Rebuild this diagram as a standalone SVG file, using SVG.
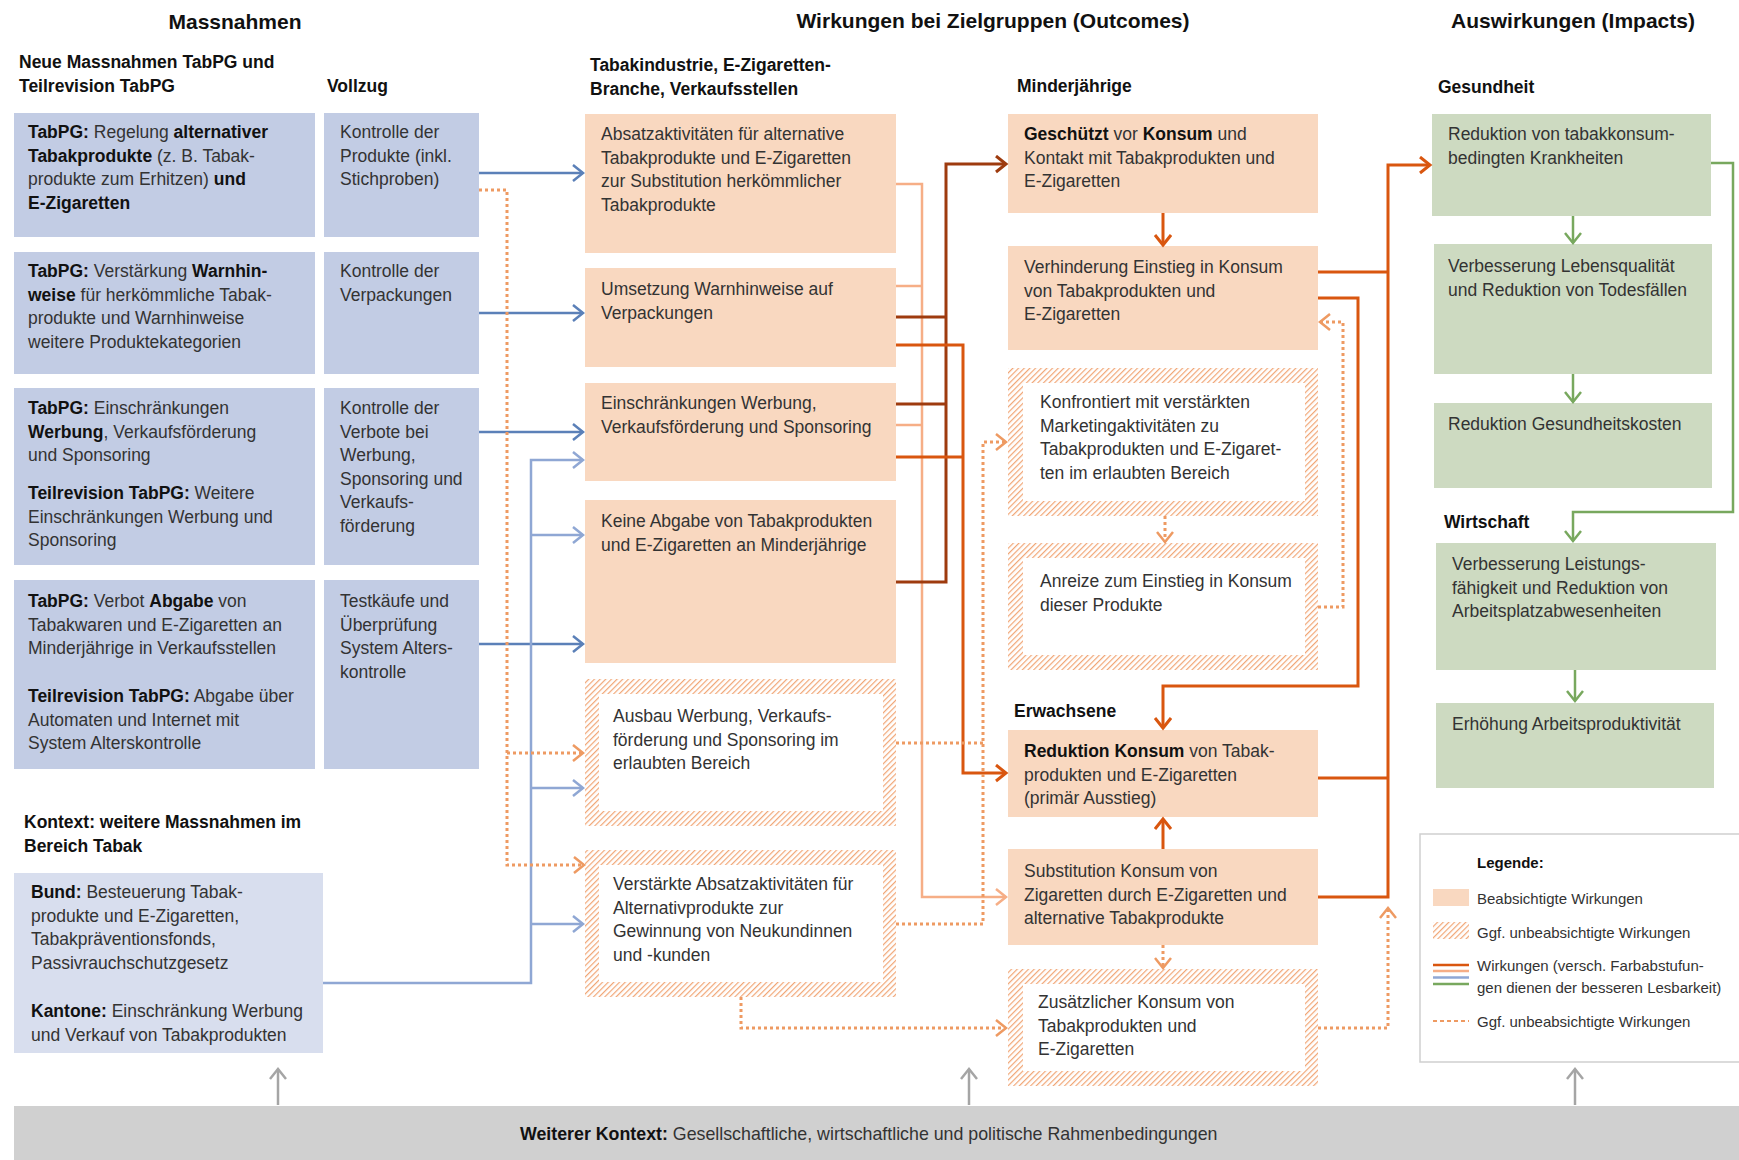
<svg xmlns="http://www.w3.org/2000/svg" width="1739" height="1160" viewBox="0 0 1739 1160">
<style>
text{font-family:"Liberation Sans",Arial,sans-serif;font-size:17.5px;fill:#333}
.b{font-weight:bold;fill:#111}
.h{font-weight:bold;fill:#111}
.ti{font-weight:bold;font-size:21px;fill:#111}
.lg{font-size:15px}
.blue{fill:#C2CCE4}
.ctx{fill:#D8DEEE}
.peach{fill:#F9D8C0}
.green{fill:#CDDAC1}
.c{fill:none;stroke-linejoin:miter}
.bd{stroke:#5B80B8;stroke-width:2.5}
.bl{stroke:#8FA7D4;stroke-width:2.5}
.br{stroke:#9E3B0E;stroke-width:3}
.om{stroke:#D9560F;stroke-width:3}
.ol{stroke:#F6AE86;stroke-width:2.5}
.od{stroke:#EE9A62;stroke-width:3;stroke-dasharray:3 3}
.gr{stroke:#78A85E;stroke-width:2.5}
.gy{stroke:#A5A5A5;stroke-width:2.5}
</style>
<defs>
<pattern id="hatch" width="4" height="4" patternUnits="userSpaceOnUse" patternTransform="rotate(45)"><rect width="4" height="4" fill="#fff"/><line x1="0.6" y1="0" x2="0.6" y2="4" stroke="#F1A676" stroke-width="1.2"/></pattern>
<marker id="mBd" markerUnits="userSpaceOnUse" markerWidth="14" markerHeight="20" refX="11" refY="9" orient="auto"><path d="M1,1 L11,9 L1,17" fill="none" stroke="#5B80B8" stroke-width="2.5"/></marker>
<marker id="mBl" markerUnits="userSpaceOnUse" markerWidth="14" markerHeight="20" refX="11" refY="9" orient="auto"><path d="M1,1 L11,9 L1,17" fill="none" stroke="#8FA7D4" stroke-width="2.5"/></marker>
<marker id="mBr" markerUnits="userSpaceOnUse" markerWidth="14" markerHeight="20" refX="11" refY="9" orient="auto"><path d="M1,1 L11,9 L1,17" fill="none" stroke="#9E3B0E" stroke-width="3"/></marker>
<marker id="mOm" markerUnits="userSpaceOnUse" markerWidth="14" markerHeight="20" refX="11" refY="9" orient="auto"><path d="M1,1 L11,9 L1,17" fill="none" stroke="#D9560F" stroke-width="3"/></marker>
<marker id="mOl" markerUnits="userSpaceOnUse" markerWidth="14" markerHeight="20" refX="11" refY="9" orient="auto"><path d="M1,1 L11,9 L1,17" fill="none" stroke="#F6AE86" stroke-width="2.5"/></marker>
<marker id="mOd" markerUnits="userSpaceOnUse" markerWidth="14" markerHeight="20" refX="11" refY="9" orient="auto"><path d="M1,1 L11,9 L1,17" fill="none" stroke="#EE9A62" stroke-width="2.5"/></marker>
<marker id="mGr" markerUnits="userSpaceOnUse" markerWidth="14" markerHeight="20" refX="11" refY="9" orient="auto"><path d="M1,1 L11,9 L1,17" fill="none" stroke="#78A85E" stroke-width="2.5"/></marker>
<marker id="mGy" markerUnits="userSpaceOnUse" markerWidth="14" markerHeight="20" refX="11" refY="9" orient="auto"><path d="M1,1 L11,9 L1,17" fill="none" stroke="#A5A5A5" stroke-width="2.5"/></marker>
</defs>
<rect width="1739" height="1160" fill="#fff"/>

<g id="titles">
<text class="ti" x="235" y="29" text-anchor="middle">Massnahmen</text>
<text class="ti" x="993" y="28" text-anchor="middle">Wirkungen bei  Zielgruppen (Outcomes)</text>
<text class="ti" x="1573" y="28" text-anchor="middle">Auswirkungen (Impacts)</text>
<text class="h" x="19" y="68">Neue Massnahmen TabPG und</text>
<text class="h" x="19" y="92">Teilrevision TabPG</text>
<text class="h" x="327" y="92">Vollzug</text>
<text class="h" x="590" y="71">Tabakindustrie, E-Zigaretten-</text>
<text class="h" x="590" y="95">Branche, Verkaufsstellen</text>
<text class="h" x="1017" y="92">Minderjährige</text>
<text class="h" x="1014" y="717">Erwachsene</text>
<text class="h" x="1438" y="93">Gesundheit</text>
<text class="h" x="1444" y="528">Wirtschaft</text>
<text class="h" x="24" y="828">Kontext: weitere Massnahmen im</text>
<text class="h" x="24" y="852">Bereich Tabak</text>
</g>

<g id="bottom-context">
<rect x="14" y="1106" width="1725" height="54" fill="#D0D0D0"/>
<text x="520" y="1140" style="font-size:17.8px"><tspan class="b">Weiterer Kontext:</tspan> Gesellschaftliche, wirtschaftliche und politische Rahmenbedingungen</text>
</g>

<g id="node-a1"><rect class="blue" x="14" y="113" width="301" height="124"/>
<text x="28" y="138"><tspan class="b">TabPG:</tspan> Regelung <tspan class="b">alternativer</tspan></text>
<text x="28" y="161.5"><tspan class="b">Tabakprodukte</tspan> (z. B. Tabak-</text>
<text x="28" y="185">produkte zum Erhitzen) <tspan class="b">und</tspan></text>
<text x="28" y="208.5" class="b">E-Zigaretten</text></g>
<g id="node-v1"><rect class="blue" x="324" y="113" width="155" height="124"/>
<text x="340" y="138">Kontrolle der</text><text x="340" y="161.5">Produkte (inkl.</text><text x="340" y="185">Stichproben)</text></g>

<g id="node-a2"><rect class="blue" x="14" y="252" width="301" height="122"/>
<text x="28" y="277"><tspan class="b">TabPG:</tspan> Verstärkung  <tspan class="b">Warnhin-</tspan></text>
<text x="28" y="300.5"><tspan class="b">weise</tspan> für herkömmliche Tabak-</text>
<text x="28" y="324">produkte und  Warnhinweise</text>
<text x="28" y="347.5">weitere Produktekategorien</text></g>
<g id="node-v2"><rect class="blue" x="324" y="252" width="155" height="122"/>
<text x="340" y="277">Kontrolle der</text><text x="340" y="300.5">Verpackungen</text></g>

<g id="node-a3"><rect class="blue" x="14" y="388" width="301" height="177"/>
<text x="28" y="414"><tspan class="b">TabPG:</tspan> Einschränkungen</text>
<text x="28" y="437.5"><tspan class="b">Werbung</tspan>, Verkaufsförderung</text>
<text x="28" y="461">und Sponsoring</text>
<text x="28" y="499"><tspan class="b">Teilrevision TabPG:</tspan> Weitere</text>
<text x="28" y="522.5">Einschränkungen Werbung und</text>
<text x="28" y="546">Sponsoring</text></g>
<g id="node-v3"><rect class="blue" x="324" y="388" width="155" height="177"/>
<text x="340" y="414">Kontrolle der</text><text x="340" y="437.5">Verbote bei</text><text x="340" y="461">Werbung,</text><text x="340" y="484.5">Sponsoring und</text><text x="340" y="508">Verkaufs-</text><text x="340" y="531.5">förderung</text></g>

<g id="node-a4"><rect class="blue" x="14" y="580" width="301" height="189"/>
<text x="28" y="607"><tspan class="b">TabPG:</tspan> Verbot <tspan class="b">Abgabe</tspan> von</text>
<text x="28" y="630.5">Tabakwaren und E-Zigaretten an</text>
<text x="28" y="654">Minderjährige in Verkaufsstellen</text>
<text x="28" y="702"><tspan class="b">Teilrevision TabPG:</tspan> Abgabe über</text>
<text x="28" y="725.5">Automaten und Internet mit</text>
<text x="28" y="749">System Alterskontrolle</text></g>
<g id="node-v4"><rect class="blue" x="324" y="580" width="155" height="189"/>
<text x="340" y="607">Testkäufe und</text><text x="340" y="630.5">Überprüfung</text><text x="340" y="654">System Alters-</text><text x="340" y="677.5">kontrolle</text></g>

<g id="node-context"><rect class="ctx" x="14" y="873" width="309" height="180"/>
<text x="31" y="898"><tspan class="b">Bund:</tspan> Besteuerung Tabak-</text>
<text x="31" y="921.5">produkte und E-Zigaretten,</text>
<text x="31" y="945">Tabakpräventionsfonds,</text>
<text x="31" y="968.5">Passivrauchschutzgesetz</text>
<text x="31" y="1017"><tspan class="b">Kantone:</tspan> Einschränkung Werbung</text>
<text x="31" y="1040.5">und Verkauf von Tabakprodukten</text></g>

<g id="node-b1"><rect class="peach" x="585" y="114" width="311" height="139"/>
<text x="601" y="140">Absatzaktivitäten für alternative</text>
<text x="601" y="163.5">Tabakprodukte und  E-Zigaretten</text>
<text x="601" y="187">zur Substitution herkömmlicher</text>
<text x="601" y="210.5">Tabakprodukte</text></g>
<g id="node-b2"><rect class="peach" x="585" y="268" width="311" height="99"/>
<text x="601" y="295">Umsetzung Warnhinweise auf</text>
<text x="601" y="318.5">Verpackungen</text></g>
<g id="node-b3"><rect class="peach" x="585" y="383" width="311" height="98"/>
<text x="601" y="409">Einschränkungen Werbung,</text>
<text x="601" y="432.5">Verkaufsförderung und Sponsoring</text></g>
<g id="node-b4"><rect class="peach" x="585" y="500" width="311" height="163"/>
<text x="601" y="527">Keine Abgabe von Tabakprodukten</text>
<text x="601" y="550.5">und E-Zigaretten an Minderjährige</text></g>
<g id="node-b5"><rect x="585" y="679" width="311" height="147" fill="url(#hatch)"/><rect x="599" y="694" width="284" height="117" fill="#fff"/>
<text x="613" y="722">Ausbau Werbung, Verkaufs-</text>
<text x="613" y="745.5">förderung und Sponsoring im</text>
<text x="613" y="769">erlaubten Bereich</text></g>
<g id="node-b6"><rect x="585" y="850" width="311" height="147" fill="url(#hatch)"/><rect x="599" y="865" width="284" height="117" fill="#fff"/>
<text x="613" y="890">Verstärkte Absatzaktivitäten für</text>
<text x="613" y="913.5">Alternativprodukte zur</text>
<text x="613" y="937">Gewinnung von Neukundinnen</text>
<text x="613" y="960.5">und -kunden</text></g>

<g id="node-c1"><rect class="peach" x="1008" y="114" width="310" height="99"/>
<text x="1024" y="140"><tspan class="b">Geschützt</tspan> vor <tspan class="b">Konsum</tspan> und</text>
<text x="1024" y="163.5">Kontakt mit Tabakprodukten und</text>
<text x="1024" y="187">E-Zigaretten</text></g>
<g id="node-c2"><rect class="peach" x="1008" y="246" width="310" height="104"/>
<text x="1024" y="273">Verhinderung Einstieg in Konsum</text>
<text x="1024" y="296.5">von Tabakprodukten und</text>
<text x="1024" y="320">E-Zigaretten</text></g>
<g id="node-c3"><rect x="1008" y="368" width="310" height="148" fill="url(#hatch)"/><rect x="1023" y="383" width="282" height="118" fill="#fff"/>
<text x="1040" y="408">Konfrontiert mit verstärkten</text>
<text x="1040" y="431.5">Marketingaktivitäten zu</text>
<text x="1040" y="455">Tabakprodukten und E-Zigaret-</text>
<text x="1040" y="478.5">ten im erlaubten Bereich</text></g>
<g id="node-c4"><rect x="1008" y="543" width="310" height="127" fill="url(#hatch)"/><rect x="1023" y="558" width="282" height="97" fill="#fff"/>
<text x="1040" y="587">Anreize zum Einstieg in Konsum</text>
<text x="1040" y="610.5">dieser Produkte</text></g>
<g id="node-c5"><rect class="peach" x="1008" y="730" width="310" height="87"/>
<text x="1024" y="757"><tspan class="b">Reduktion Konsum</tspan> von Tabak-</text>
<text x="1024" y="780.5">produkten und E-Zigaretten</text>
<text x="1024" y="804">(primär Ausstieg)</text></g>
<g id="node-c6"><rect class="peach" x="1008" y="849" width="310" height="96"/>
<text x="1024" y="877">Substitution Konsum von</text>
<text x="1024" y="900.5">Zigaretten durch E-Zigaretten und</text>
<text x="1024" y="924">alternative Tabakprodukte</text></g>
<g id="node-c7"><rect x="1008" y="969" width="310" height="117" fill="url(#hatch)"/><rect x="1023" y="984" width="282" height="87" fill="#fff"/>
<text x="1038" y="1008">Zusätzlicher Konsum von</text>
<text x="1038" y="1031.5">Tabakprodukten und</text>
<text x="1038" y="1055">E-Zigaretten</text></g>

<g id="node-d1"><rect class="green" x="1432" y="114" width="279" height="102"/>
<text x="1448" y="140">Reduktion von tabakkonsum-</text>
<text x="1448" y="163.5">bedingten Krankheiten</text></g>
<g id="node-d2"><rect class="green" x="1434" y="244" width="278" height="130"/>
<text x="1448" y="272">Verbesserung Lebensqualität</text>
<text x="1448" y="295.5">und Reduktion von  Todesfällen</text></g>
<g id="node-d3"><rect class="green" x="1434" y="403" width="278" height="85"/>
<text x="1448" y="430">Reduktion Gesundheitskosten</text></g>
<g id="node-d4"><rect class="green" x="1436" y="543" width="280" height="127"/>
<text x="1452" y="570">Verbesserung Leistungs-</text>
<text x="1452" y="593.5">fähigkeit und Reduktion von</text>
<text x="1452" y="617">Arbeitsplatzabwesenheiten</text></g>
<g id="node-d5"><rect class="green" x="1436" y="703" width="278" height="85"/>
<text x="1452" y="730">Erhöhung Arbeitsproduktivität</text></g>

<g id="legend">
<rect x="1420" y="834" width="330" height="228" fill="#fff" stroke="#CFCFCF" stroke-width="1.5"/>
<text class="h lg" x="1477" y="868">Legende:</text>
<rect class="peach" x="1433" y="889" width="36" height="17"/>
<text class="lg" x="1477" y="904">Beabsichtigte Wirkungen</text>
<rect x="1433" y="922" width="36" height="17" fill="url(#hatch)"/>
<text class="lg" x="1477" y="938">Ggf. unbeabsichtigte Wirkungen</text>
<line x1="1433" y1="965" x2="1469" y2="965" stroke="#D9560F" stroke-width="2.5"/>
<line x1="1433" y1="971" x2="1469" y2="971" stroke="#F6AE86" stroke-width="2.5"/>
<line x1="1433" y1="977.5" x2="1469" y2="977.5" stroke="#8FA7D4" stroke-width="2.5"/>
<line x1="1433" y1="984" x2="1469" y2="984" stroke="#78A85E" stroke-width="2.5"/>
<text class="lg" x="1477" y="971">Wirkungen (versch. Farbabstufun-</text>
<text class="lg" x="1477" y="993">gen dienen der besseren Lesbarkeit)</text>
<line x1="1433" y1="1021" x2="1469" y2="1021" stroke="#EE9A62" stroke-width="2" stroke-dasharray="4 3"/>
<text class="lg" x="1477" y="1027">Ggf. unbeabsichtigte Wirkungen</text>
</g>

<g id="connectors">
<path class="c bd" d="M479,173 H583" marker-end="url(#mBd)"/>
<path class="c bd" d="M479,313 H583" marker-end="url(#mBd)"/>
<path class="c bd" d="M479,432 H583" marker-end="url(#mBd)"/>
<path class="c bd" d="M479,644 H583" marker-end="url(#mBd)"/>
<path class="c bl" d="M323,983 H531 V460 H583" marker-end="url(#mBl)"/>
<path class="c bl" d="M531,535 H583" marker-end="url(#mBl)"/>
<path class="c bl" d="M531,788 H583" marker-end="url(#mBl)"/>
<path class="c bl" d="M531,924 H583" marker-end="url(#mBl)"/>
<path class="c od" d="M479,190 H507 V865 H584" marker-end="url(#mOd)"/>
<path class="c od" d="M507,753 H583" marker-end="url(#mOd)"/>

<path class="c ol" d="M896,184 H922 V897 H1006" marker-end="url(#mOl)"/>
<path class="c ol" d="M896,286 H922 M896,425 H922"/>
<path class="c br" d="M896,582 H946 V164 H1006" marker-end="url(#mBr)"/>
<path class="c br" d="M896,317 H946 M896,404 H946"/>
<path class="c om" d="M896,345 H963 V773 H1006" marker-end="url(#mOm)"/>
<path class="c om" d="M896,457 H963"/>
<path class="c od" d="M896,743 H983"/>
<path class="c od" d="M896,924 H983 V442 H1006" marker-end="url(#mOd)"/>
<path class="c od" d="M741,997 V1028 H1006" marker-end="url(#mOd)"/>

<path class="c om" d="M1163,213 V245" marker-end="url(#mOm)"/>
<path class="c od" d="M1165,516 V542" marker-end="url(#mOd)"/>
<path class="c om" d="M1163,849 V819" marker-end="url(#mOm)"/>
<path class="c od" d="M1163,945 V968" marker-end="url(#mOd)"/>
<path class="c om" d="M1318,298 H1358 V686 H1163 V728" marker-end="url(#mOm)"/>
<path class="c od" d="M1318,607 H1343 V322 H1320" marker-end="url(#mOd)"/>
<path class="c om" d="M1318,897 H1388 V165 H1430" marker-end="url(#mOm)"/>
<path class="c om" d="M1318,272 H1388 M1318,778 H1388"/>
<path class="c od" d="M1318,1028 H1388 V908" marker-end="url(#mOd)"/>

<path class="c gr" d="M1573,216 V243" marker-end="url(#mGr)"/>
<path class="c gr" d="M1573,374 V402" marker-end="url(#mGr)"/>
<path class="c gr" d="M1711,163 H1733 V512 H1573 V541" marker-end="url(#mGr)"/>
<path class="c gr" d="M1575,670 V701" marker-end="url(#mGr)"/>

<path class="c gy" d="M278,1105 V1069" marker-end="url(#mGy)"/>
<path class="c gy" d="M969,1105 V1069" marker-end="url(#mGy)"/>
<path class="c gy" d="M1575,1105 V1069" marker-end="url(#mGy)"/>
</g>
</svg>
